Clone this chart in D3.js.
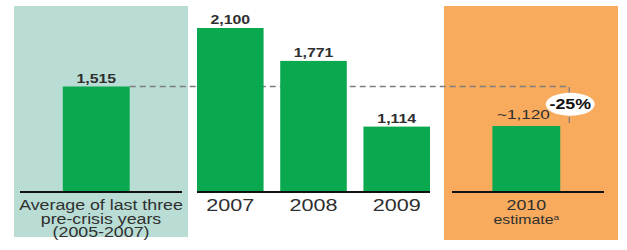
<!DOCTYPE html>
<html>
<head>
<meta charset="utf-8">
<script src="https://cdn.jsdelivr.net/npm/d3@7"></script>
<style>
  body { margin: 0; background: #fff; }
  text { font-family: "Liberation Sans", Arial, sans-serif; fill: #2f2f2f; }
</style>
</head>
<body>
<script>
const width = 627
const height = 250
const stretch = 1.27 // the source image is squashed wide

// data
const avgLines = ['Average of last three', 'pre-crisis years', '(2005-2007)']
const avgValue = 1515
const years = ['2007', '2008', '2009']
const yearValues = [2100, 1771, 1114]
const estYear = '2010'
const estNote = 'estimate'
const estValue = 1120
const changeLabel = '-25%'

const fmt = d3.format(',')
const green = '#0aa84f'

const svg = d3.select('body').append('svg').attr('width', width).attr('height', height)

const y = d3.scaleLinear().domain([470, 2100]).range([191, 28])
const base = y(470)

// background panels
svg.append('rect').attr('x', 14).attr('y', 6).attr('width', 174).attr('height', 231).attr('fill', '#b9ddd5')
svg.append('rect').attr('x', 444).attr('y', 6).attr('width', 174).attr('height', 234).attr('fill', '#f8ab5d')

// x scales, one per panel
const xAvg = d3.scaleBand().domain(['avg']).range([20, 182]).paddingInner(0).paddingOuter(0.71).align(0.45)
const xYears = d3.scaleBand().domain(years).range([197, 430]).paddingInner(0.2).paddingOuter(0)
const xEst = d3.scaleBand().domain([estYear]).range([452, 604]).paddingInner(0).paddingOuter(0.62).align(0.48)

function label(g, x, yy, txt, size, weight) {
  return g.append('text')
    .attr('transform', `translate(${x},${yy}) scale(${stretch},1)`)
    .attr('text-anchor', 'middle')
    .style('font-size', size + 'px')
    .style('font-weight', weight || 'normal')
    .text(txt)
}

// dashed reference line
const dashX = xEst(estYear) + xEst.bandwidth() + 9
svg.append('path')
  .attr('d', `M${xAvg('avg') + xAvg.bandwidth()},${y(avgValue)}H${dashX}V${y(estValue)}`)
  .attr('fill', 'none')
  .attr('stroke', '#7d7d7d')
  .attr('stroke-width', 1.3)
  .attr('stroke-dasharray', '6,4')

// bars
const bars = [
  { key: 'avg', v: avgValue, x: xAvg },
  ...years.map((k, i) => ({ key: k, v: yearValues[i], x: xYears })),
  { key: estYear, v: estValue, x: xEst }
]
svg.selectAll('rect.bar')
  .data(bars)
  .join('rect')
  .attr('class', 'bar')
  .attr('x', d => d.x(d.key))
  .attr('width', d => d.x.bandwidth())
  .attr('y', d => y(d.v))
  .attr('height', d => base - y(d.v))
  .attr('fill', green)

// value labels
bars.forEach(d => {
  const cx = d.x(d.key) + d.x.bandwidth() / 2
  if (d.key === estYear) {
    label(svg, cx - 3, y(d.v) - 7, '~' + fmt(d.v), 13.5)
  } else {
    label(svg, cx, y(d.v) - 4, fmt(d.v), 12.5, 'bold')
  }
})

// baselines
const baselines = [xAvg.range(), xYears.range(), xEst.range()]
svg.selectAll('line.base')
  .data(baselines)
  .join('line')
  .attr('class', 'base')
  .attr('x1', d => d[0]).attr('x2', d => d[1])
  .attr('y1', base + 1).attr('y2', base + 1)
  .attr('stroke', '#111')
  .attr('stroke-width', 2)

// category labels
const avgCx = (xAvg.range()[0] + xAvg.range()[1]) / 2
avgLines.forEach((t, i) => label(svg, avgCx, 210 + i * 13.5, t, 14))
years.forEach(k => label(svg, xYears(k) + xYears.bandwidth() / 2, 211, k, 17))
const estCx = xEst(estYear) + xEst.bandwidth() / 2
label(svg, estCx, 210, estYear, 14)
const est = label(svg, estCx, 224, estNote, 12.5)
est.append('tspan').attr('baseline-shift', 'super').style('font-size', '8px').text('a')

// change bubble
const bubbleY = (y(avgValue) + y(estValue)) / 2 - 2
svg.append('ellipse')
  .attr('cx', dashX + 1).attr('cy', bubbleY)
  .attr('rx', 24.5).attr('ry', 11.5)
  .attr('fill', '#fff')
label(svg, dashX + 1, bubbleY + 5, changeLabel, 14, 'bold').style('fill', '#111')
</script>
</body>
</html>
